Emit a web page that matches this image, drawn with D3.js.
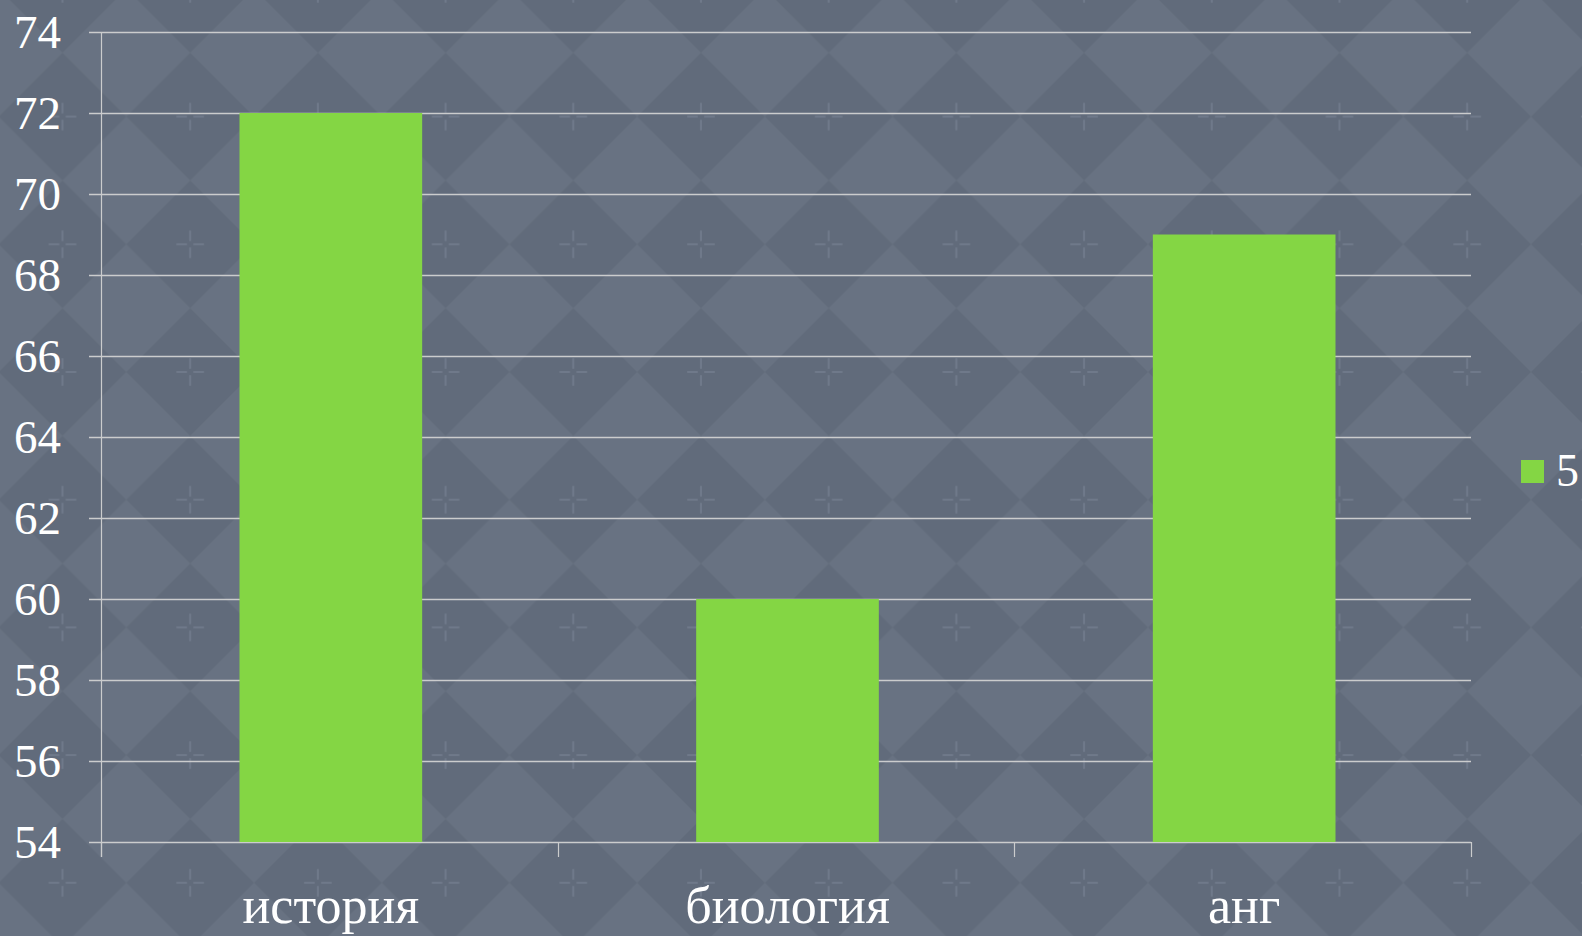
<!DOCTYPE html>
<html>
<head>
<meta charset="utf-8">
<script src="https://cdn.jsdelivr.net/npm/d3@7"></script>
<style>
  html, body { margin: 0; padding: 0; background: #656f7e; overflow: hidden; }
  svg { display: block; }
</style>
</head>
<body>
<svg id="chart"></svg>
<script>
// Chart data
const categories = ["история", "биология", "анг"];
const values = [72, 60, 69];
const seriesName = "5";
const yTicks = [54, 56, 58, 60, 62, 64, 66, 68, 70, 72, 74];

const W = 1582, H = 936;
const margin = {top: 32, right: 111, bottom: 94, left: 101};
const barColor = "#84d644";
const gridColor = "#cbcccd";
const font = "'Liberation Serif', 'Times New Roman', serif";

const svg = d3.select("#chart")
  .attr("width", W)
  .attr("height", H);

// Background: rotated checker of diamonds with faint sparkles
const P = 127.7;
const defs = svg.append("defs");
const pat = defs.append("pattern")
  .attr("id", "bgpat")
  .attr("patternUnits", "userSpaceOnUse")
  .attr("width", P)
  .attr("height", P)
  .attr("x", 62.5 - P / 2)
  .attr("y", 116.6 - P / 2);
pat.append("rect").attr("width", P).attr("height", P).attr("fill", "#687282");
// dark diamond in the centre
pat.append("path")
  .attr("d", `M${P/2},0 L${P},${P/2} L${P/2},${P} L0,${P/2} Z`)
  .attr("fill", "#616b7b");
// faint sparkle
const c = P / 2;
pat.append("path")
  .attr("d", `M${c-13},${c} L${c-4},${c} M${c+4},${c} L${c+13},${c} M${c},${c-13} L${c},${c-4} M${c},${c+4} L${c},${c+13}`)
  .attr("stroke", "#737d8d")
  .attr("stroke-width", 2)
  .attr("stroke-linecap", "round")
  .attr("opacity", 0.8);

svg.append("rect")
  .attr("width", W)
  .attr("height", H)
  .attr("fill", "url(#bgpat)");

// Scales (bars sit a touch right of the band centre, as in the original)
const x = d3.scaleBand()
  .domain(categories)
  .range([margin.left + 1.5, W - margin.right + 1.5])
  .paddingInner(0.6)
  .paddingOuter(0.3);

const xEdges = d3.scaleBand()
  .domain(categories)
  .range([margin.left, W - margin.right]);

const y = d3.scaleLinear()
  .domain([54, 74])
  .range([H - margin.bottom, margin.top]);

// Gridlines with left tick stubs
svg.append("g")
  .selectAll("line")
  .data(yTicks)
  .enter()
  .append("line")
  .attr("x1", margin.left - 12)
  .attr("x2", W - margin.right)
  .attr("y1", d => Math.round(y(d)) + 0.5)
  .attr("y2", d => Math.round(y(d)) + 0.5)
  .attr("stroke", gridColor)
  .attr("stroke-width", 1.3);

// Y axis line
svg.append("line")
  .attr("x1", margin.left + 0.5)
  .attr("x2", margin.left + 0.5)
  .attr("y1", y(74))
  .attr("y2", y(54) + 15)
  .attr("stroke", gridColor)
  .attr("stroke-width", 1.2);

// Bottom tick marks at category boundaries
const edges = categories.map(d => xEdges(d)).concat([W - margin.right]);
svg.append("g")
  .selectAll("line")
  .data(edges)
  .enter()
  .append("line")
  .attr("x1", d => Math.round(d) + 0.5)
  .attr("x2", d => Math.round(d) + 0.5)
  .attr("y1", y(54))
  .attr("y2", y(54) + 15)
  .attr("stroke", gridColor)
  .attr("stroke-width", 1.2);

// Bars
svg.append("g")
  .selectAll("rect")
  .data(values)
  .enter()
  .append("rect")
  .attr("x", (d, i) => x(categories[i]))
  .attr("width", x.bandwidth())
  .attr("y", d => y(d))
  .attr("height", d => y(54) - y(d))
  .attr("fill", barColor);

// Y tick labels
svg.append("g")
  .selectAll("text")
  .data(yTicks)
  .enter()
  .append("text")
  .attr("x", 61)
  .attr("y", d => y(d))
  .attr("dy", "0.33em")
  .attr("text-anchor", "end")
  .attr("font-family", font)
  .attr("font-size", "47px")
  .attr("fill", "#ffffff")
  .text(d => d);

// X category labels
svg.append("g")
  .selectAll("text")
  .data(categories)
  .enter()
  .append("text")
  .attr("x", d => x(d) + x.bandwidth() / 2)
  .attr("y", 923)
  .attr("text-anchor", "middle")
  .attr("font-family", font)
  .attr("font-size", "52px")
  .attr("fill", "#ffffff")
  .text(d => d);

// Legend
svg.append("rect")
  .attr("x", 1521)
  .attr("y", 460)
  .attr("width", 23)
  .attr("height", 23)
  .attr("fill", barColor);

svg.append("text")
  .attr("x", 1556)
  .attr("y", 486)
  .attr("font-family", font)
  .attr("font-size", "46px")
  .attr("fill", "#ffffff")
  .text(seriesName);
</script>
</body>
</html>
